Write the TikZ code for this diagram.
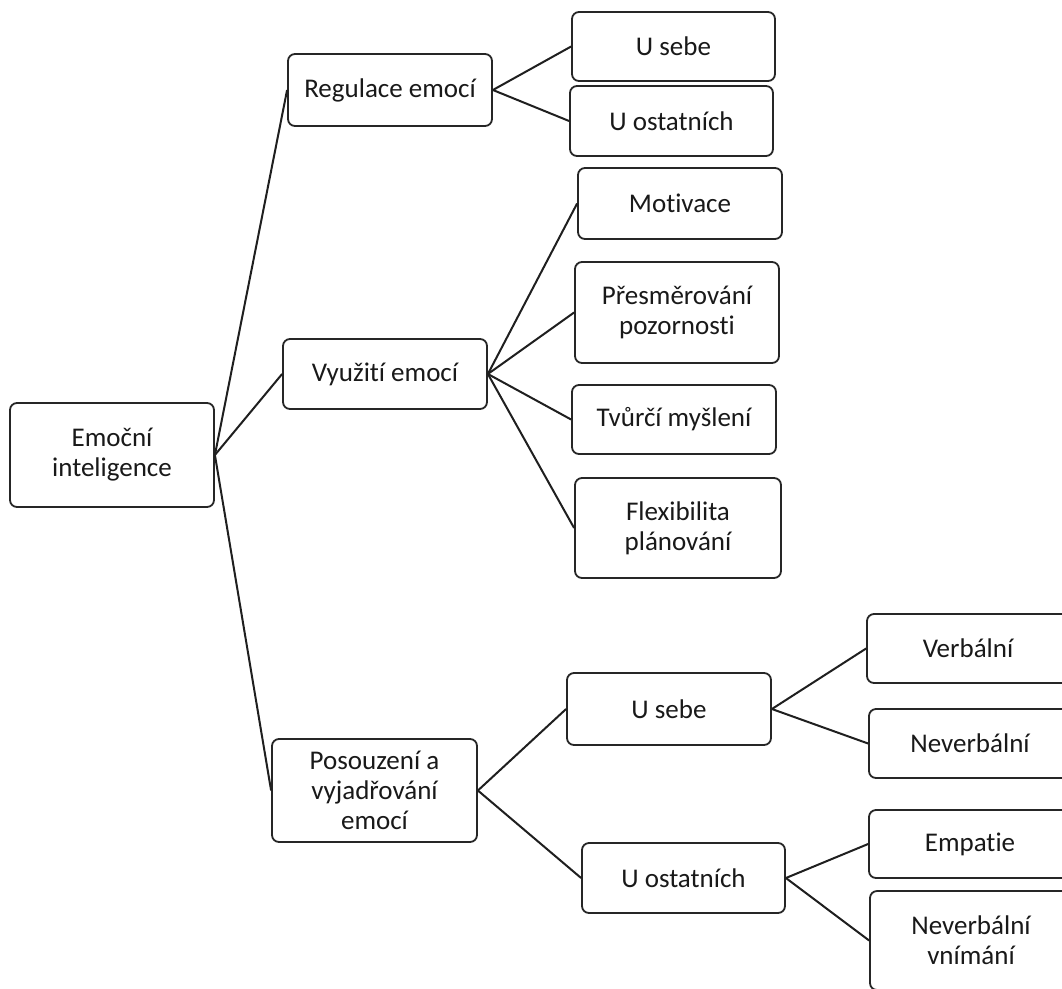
\documentclass[tikz,border=0pt]{standalone}
\usepackage{fontspec}
\setmainfont{Carlito}[Ligatures={NoCommon,NoContextual}]
\begin{document}
\begin{tikzpicture}[x=1pt,y=-1pt,
  box/.style={draw=black!85, line width=1.8pt, rounded corners=7pt, fill=white, inner sep=0pt, align=center, font=\fontsize{27}{30}\selectfont, text=black!90},
  link/.style={draw=black!88, line width=2pt}]
\useasboundingbox (0,0) rectangle (1062,988);
\clip (0,0) rectangle (1062,988);
% level 0
\node[box, minimum width=204pt, minimum height=104pt] (root) at (112,455) {Emoční\\inteligence};
% level 1
\node[box, minimum width=204pt, minimum height=72pt] (reg) at (390,90) {Regulace emocí};
\node[box, minimum width=204pt, minimum height=70pt] (vy) at (385,374) {Využití emocí};
\node[box, minimum width=205pt, minimum height=103pt] (pos) at (374.5,790.5) {Posouzení a\\vyjadřování\\emocí};
% level 2
\node[box, minimum width=203pt, minimum height=69pt] (r1) at (673.5,46.5) {U sebe};
\node[box, minimum width=203pt, minimum height=70pt] (r2) at (671.5,121) {U ostatních};
\node[box, minimum width=204pt, minimum height=71pt] (v1) at (680,203.5) {Motivace};
\node[box, minimum width=204pt, minimum height=101pt] (v2) at (677,312.5) {Přesměrování\\pozornosti};
\node[box, minimum width=204pt, minimum height=69pt] (v3) at (674,419.5) {Tvůrčí myšlení};
\node[box, minimum width=206pt, minimum height=100pt] (v4) at (678,528) {Flexibilita\\plánování};
\node[box, minimum width=204pt, minimum height=72pt] (p1) at (669,709) {U sebe};
\node[box, minimum width=203pt, minimum height=70pt] (p2) at (683.5,878) {U ostatních};
% level 3
\node[box, minimum width=202pt, minimum height=69pt] (q1) at (968,648.5) {Verbální};
\node[box, minimum width=202pt, minimum height=69pt] (q2) at (970,743.5) {Neverbální};
\node[box, minimum width=202pt, minimum height=68pt] (q3) at (970,844) {Empatie};
\node[box, minimum width=202pt, minimum height=99pt] (q4) at (971,940.5) {Neverbální\\vnímání};
% connectors
\draw[link] (root.east) -- (reg.west);
\draw[link] (root.east) -- (vy.west);
\draw[link] (root.east) -- (pos.west);
\draw[link] (reg.east) -- (r1.west);
\draw[link] (reg.east) -- (r2.west);
\draw[link] (vy.east) -- (v1.west);
\draw[link] (vy.east) -- (v2.west);
\draw[link] (vy.east) -- (v3.west);
\draw[link] (vy.east) -- (v4.west);
\draw[link] (pos.east) -- (p1.west);
\draw[link] (pos.east) -- (p2.west);
\draw[link] (p1.east) -- (q1.west);
\draw[link] (p1.east) -- (q2.west);
\draw[link] (p2.east) -- (q3.west);
\draw[link] (p2.east) -- (q4.west);
\end{tikzpicture}
\end{document}
